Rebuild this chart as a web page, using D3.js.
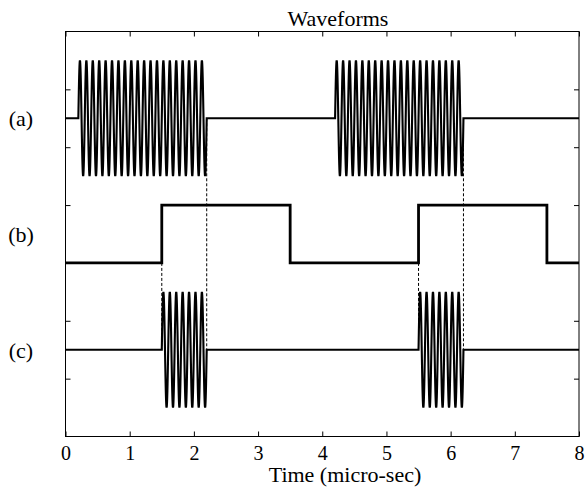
<!DOCTYPE html>
<html>
<head>
<meta charset="utf-8">
<script src="https://cdn.jsdelivr.net/npm/d3@7"></script>
<style>
  html, body { margin: 0; padding: 0; background: #fff; }
  text { font-family: "Liberation Serif", "Times New Roman", serif; fill: #000; }
</style>
</head>
<body>
<svg id="chart" width="587" height="489"></svg>
<script>
// ---- data ----
const timeTicks = [0, 1, 2, 3, 4, 5, 6, 7, 8];
const levelTicks = [1, 2, 3, 4, 5, 6];
const channelLabels = ["(a)", "(b)", "(c)"];
const channelLevels = [5.5, 3.5, 1.5];
// (a) carrier bursts
const burstAStart = [0.2, 4.2];
const burstAEnd = [2.2, 6.2];
const burstACenter = 5.5;
// (b) gate pulses
const gateRise = [1.5, 5.5];
const gateFall = [3.5, 7.5];
const gateLow = 3;
const gateHigh = 4;
// (c) gated bursts
const burstCStart = [1.5, 5.5];
const burstCEnd = [2.2, 6.2];
const burstCCenter = 1.5;
// carrier
const carrierFreq = 10;   // cycles per micro-sec
const carrierAmp = 1;
// dashed guides [time, fromLevel, toLevel]
const guideTimes = [2.2, 1.5, 6.2, 5.5];
const guideFrom = [5.5, 3, 5.5, 3];
const guideTo = [1.5, 1.5, 1.5, 1.5];

// ---- layout ----
const L = 65.5, R = 579, T = 31.5, B = 436.5;
const svg = d3.select("#chart");
const x = d3.scaleLinear().domain([0, 8]).range([L, R]);
const y = d3.scaleLinear().domain([0, 7]).range([B, T]);

const line = d3.line().x(d => x(d[0])).y(d => y(d[1]));

function burstSeries(starts, ends, center) {
  const pts = [[0, center]];
  const step = 1 / (carrierFreq * 40);
  starts.forEach((s, i) => {
    pts.push([s, center]);
    for (let t = s; t <= ends[i] + 1e-9; t += step) {
      pts.push([t, center + carrierAmp * Math.sin(2 * Math.PI * carrierFreq * (t - s))]);
    }
    pts.push([ends[i], center]);
  });
  pts.push([8, center]);
  return pts;
}

function gateSeries() {
  const pts = [[0, gateLow]];
  gateRise.forEach((r, i) => {
    pts.push([r, gateLow], [r, gateHigh], [gateFall[i], gateHigh], [gateFall[i], gateLow]);
  });
  pts.push([8, gateLow]);
  return pts;
}

// dashed guides
svg.append("g").selectAll("line").data(guideTimes).join("line")
  .attr("x1", d => x(d)).attr("x2", d => x(d))
  .attr("y1", (d, i) => y(guideFrom[i])).attr("y2", (d, i) => y(guideTo[i]))
  .attr("stroke", "#000").attr("stroke-width", 1).attr("stroke-dasharray", "3,2");

// waveforms
svg.append("path").attr("d", line(burstSeries(burstAStart, burstAEnd, burstACenter)))
  .attr("fill", "none").attr("stroke", "#000").attr("stroke-width", 2.1);
svg.append("path").attr("d", line(gateSeries()))
  .attr("fill", "none").attr("stroke", "#000").attr("stroke-width", 2.8);
svg.append("path").attr("d", line(burstSeries(burstCStart, burstCEnd, burstCCenter)))
  .attr("fill", "none").attr("stroke", "#000").attr("stroke-width", 2.1);

// frame
svg.append("rect").attr("x", L).attr("y", T).attr("width", R - L).attr("height", B - T)
  .attr("fill", "none").attr("stroke", "#000").attr("stroke-width", 1);

// axes ticks (inside)
const tk = 5;
const axB = d3.axisBottom(x).tickValues(timeTicks).tickSizeInner(-tk).tickSizeOuter(0).tickPadding(9);
const gB = svg.append("g").attr("transform", `translate(0,${B})`).call(axB);
gB.select(".domain").remove();
gB.selectAll("text").style("font-size", "20px").attr("font-family", "Liberation Serif");
const axT = d3.axisTop(x).tickValues(timeTicks).tickSizeInner(-tk).tickSizeOuter(0).tickFormat("");
svg.append("g").attr("transform", `translate(0,${T})`).call(axT).select(".domain").remove();
const axL = d3.axisLeft(y).tickValues(levelTicks).tickSizeInner(-tk).tickSizeOuter(0).tickFormat("");
svg.append("g").attr("transform", `translate(${L},0)`).call(axL).select(".domain").remove();
const axR = d3.axisRight(y).tickValues(levelTicks).tickSizeInner(-tk).tickSizeOuter(0).tickFormat("");
svg.append("g").attr("transform", `translate(${R},0)`).call(axR).select(".domain").remove();
svg.selectAll(".tick line").attr("stroke", "#000");

// channel labels
svg.append("g").selectAll("text").data(channelLabels).join("text")
  .attr("x", 21).attr("y", (d, i) => y(channelLevels[i]) + 8)
  .attr("text-anchor", "middle").style("font-size", "22px").text(d => d);

// title and x label
svg.append("text").attr("x", 338).attr("y", 26).attr("text-anchor", "middle")
  .style("font-size", "22px").text("Waveforms");
svg.append("text").attr("x", 345).attr("y", 482).attr("text-anchor", "middle")
  .style("font-size", "22px").text("Time (micro-sec)");
</script>
</body>
</html>
